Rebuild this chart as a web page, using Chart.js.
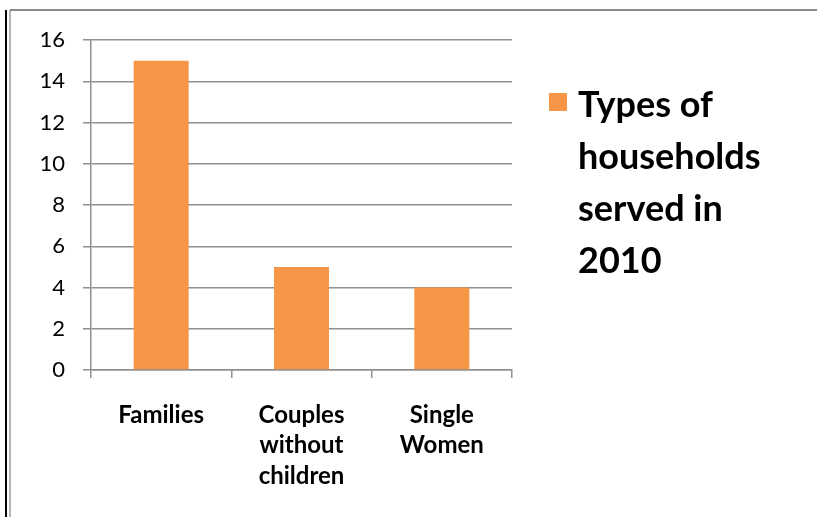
<!DOCTYPE html>
<html>
<head>
<meta charset="utf-8">
<script src="https://cdn.jsdelivr.net/npm/chart.js@4.4.1/dist/chart.umd.min.js"></script>
<style>
  html, body { margin: 0; padding: 0; background: #fff; }
  #wrap { position: relative; width: 817px; height: 517px; overflow: hidden; }
  #statisticsChart { position: absolute; left: 0; top: 0; }
  .edge-black { position: absolute; left: 5px; top: 10px; width: 2px; height: 507px; background: #000; }
  .edge-grey { position: absolute; left: 9px; top: 10px; width: 2px; height: 507px; background: #b4b4b4; }
  .edge-top { position: absolute; left: 10px; top: 9px; width: 807px; height: 2px; background: #8a8a8a; }
</style>
</head>
<body>
<div id="wrap">
  <canvas id="statisticsChart" width="817" height="517"></canvas>
  <div class="edge-black"></div>
  <div class="edge-grey"></div>
  <div class="edge-top"></div>
</div>
<script>
var categories = [['Families'], ['Couples', 'without', 'children'], ['Single', 'Women']];
var households = [15, 5, 4];
var seriesLabel = 'Types of households served in 2010';
var legendLines = ['Types of', 'households', 'served in', '2010'];
var yTicks = { min: 0, max: 16, step: 2 };

(function () {
    var gridColor = '#8f8f8f';
    var barColor = '#F79646';

    // legend drawn beside the plot, wrapped like the original
    var sideLegend = {
        id: 'sideLegend',
        afterDraw: function (chart) {
            var ctx = chart.ctx;
            var ds = chart.data.datasets[0];
            ctx.save();
            ctx.fillStyle = ds.backgroundColor;
            ctx.fillRect(549, 93, 18, 18);
            ctx.fillStyle = '#000';
            ctx.font = 'bold 36px Lato';
            ctx.textBaseline = 'alphabetic';
            ctx.textAlign = 'left';
            legendLines.forEach(function (line, i) {
                ctx.fillText(line, 578, 117 + i * 52);
            });
            ctx.restore();
        }
    };

    var ctx = document.getElementById('statisticsChart').getContext('2d');
    new Chart(ctx, {
        type: 'bar',
        data: {
            labels: categories,
            datasets: [{
                label: seriesLabel,
                data: households,
                backgroundColor: barColor,
                borderWidth: 0,
                barPercentage: 0.392,
                categoryPercentage: 1
            }]
        },
        options: {
            responsive: false,
            animation: false,
            layout: { padding: { top: 40, right: 305, left: 0, bottom: 0 } },
            plugins: {
                legend: { display: false },
                tooltip: { enabled: false }
            },
            scales: {
                x: {
                    grid: {
                        drawOnChartArea: false,
                        drawTicks: true,
                        tickLength: 8,
                        color: gridColor,
                        lineWidth: 1.5
                    },
                    border: { color: gridColor, width: 1.5 },
                    ticks: {
                        color: '#000',
                        padding: 22,
                        maxRotation: 0,
                        autoSkip: false,
                        font: { family: 'Lato', weight: 'bold', size: 24, lineHeight: 1.27 }
                    },
                    afterFit: function (scale) { scale.height = 147; }
                },
                y: {
                    min: yTicks.min,
                    max: yTicks.max,
                    grid: {
                        color: gridColor,
                        lineWidth: 1.5,
                        tickLength: 8
                    },
                    border: { color: gridColor, width: 1.5 },
                    ticks: {
                        stepSize: yTicks.step,
                        color: '#000',
                        padding: 18,
                        font: { family: 'Lato', size: 22 }
                    },
                    afterFit: function (scale) { scale.width = 91; }
                }
            }
        },
        plugins: [sideLegend]
    });
})();
</script>
</body>
</html>
